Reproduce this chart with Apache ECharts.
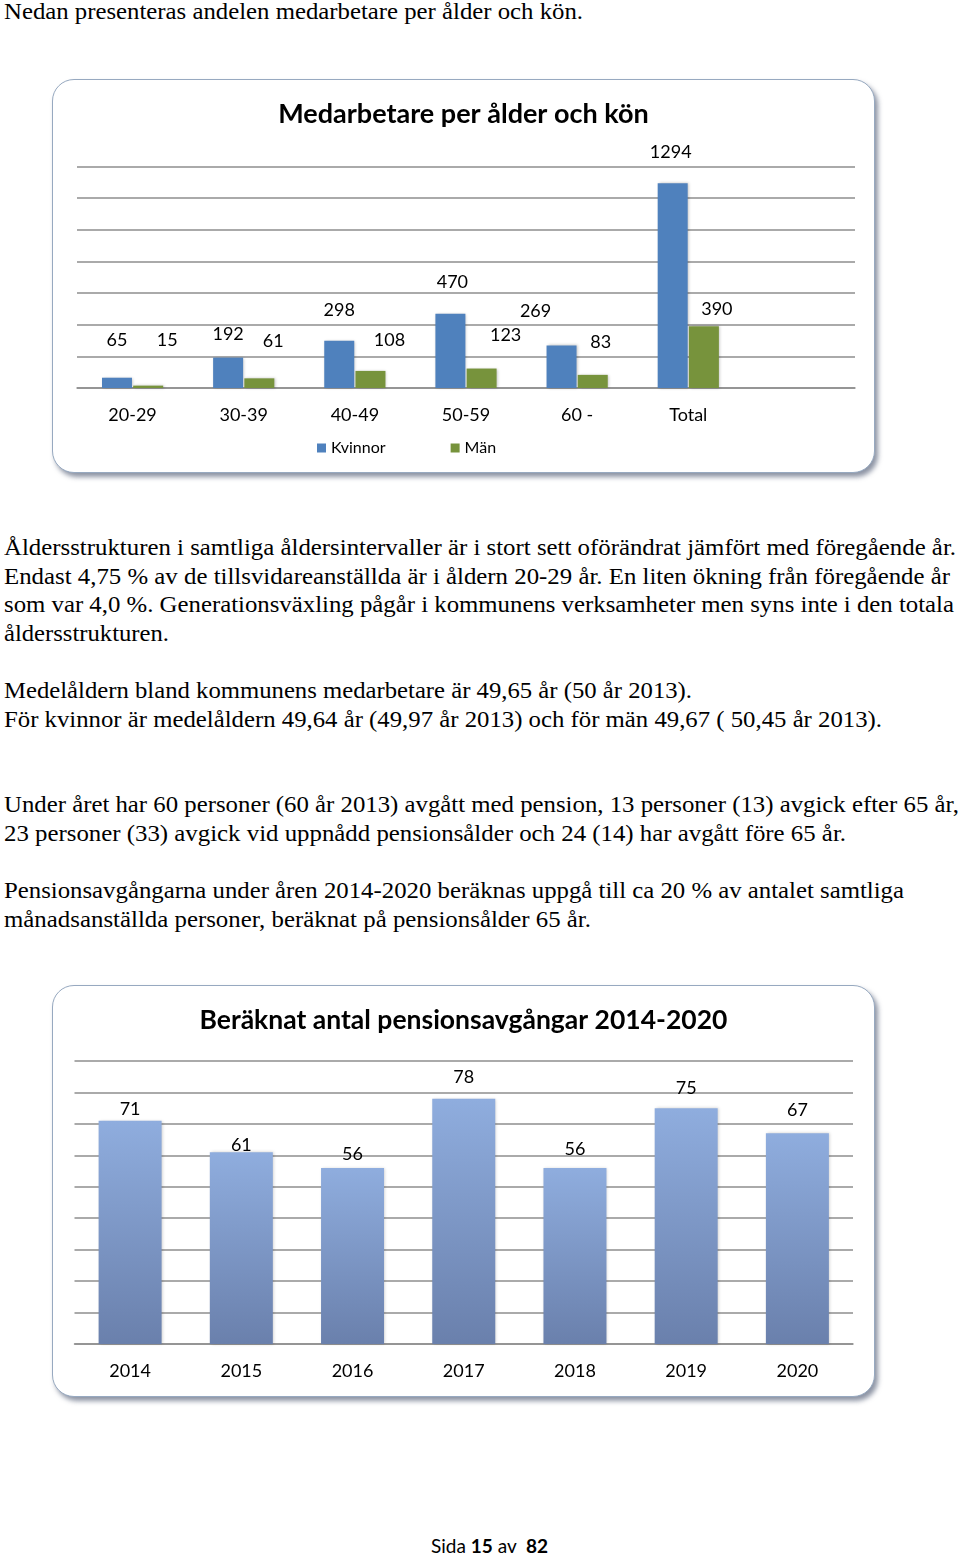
<!DOCTYPE html>
<html><head><meta charset="utf-8">
<script src="https://cdn.jsdelivr.net/npm/echarts@6/dist/echarts.min.js"></script>
<style>
html,body{margin:0;padding:0;background:#fff;}
#page{position:relative;width:960px;height:1555px;overflow:hidden;background:#fff;}
.line{position:absolute;left:4px;white-space:nowrap;font-family:"Liberation Serif","Times New Roman",serif;font-size:24px;line-height:24px;color:#000;transform-origin:0 50%;}
.box{position:absolute;left:52px;width:823px;border:1.5px solid #97a9c0;border-radius:22px;box-shadow:3px 4px 5px rgba(80,90,115,0.65);background:#fff;box-sizing:border-box;}
.chart{position:absolute;left:52px;width:823px;}
#footer{position:absolute;top:1535px;left:431px;font-family:Lato,"Open Sans",sans-serif;font-size:19px;line-height:22px;color:#000;white-space:nowrap;}
</style></head>
<body><div id="page">
<div class="box" style="top:79px;height:394px;"></div>
<div class="chart" id="c1" style="top:79px;height:394px;"></div>
<div class="box" style="top:985px;height:412px;"></div>
<div class="chart" id="c2" style="top:985px;height:412px;"></div>
<div id="footer">Sida <b>15</b> av &nbsp;<b>82</b></div>
</div>
<script>
// ---- Data: chart 1 ----
const ageGroups = ['20-29', '30-39', '40-49', '50-59', '60 -', 'Total', ''];
const kvinnor = [65, 192, 298, 470, 269, 1294, null];
const man = [15, 61, 108, 123, 83, 390, null];
const ageAxis = { min: 0, max: 1400, interval: 200 };

// ---- Data: chart 2 ----
const years = ['2014', '2015', '2016', '2017', '2018', '2019', '2020'];
const pensions = [71, 61, 56, 78, 56, 75, 67];
const pensionAxis = { min: 0, max: 90, interval: 10 };

// ---- Page text ----
const textLines = [
  ['Nedan presenteras andelen medarbetare per ålder och kön.', 12, 583],
  ['Åldersstrukturen i samtliga åldersintervaller är i stort sett oförändrat jämfört med föregående år.', 548, 956],
  ['Endast 4,75 % av de tillsvidareanställda är i åldern 20-29 år. En liten ökning från föregående år', 577, 950],
  ['som var 4,0 %. Generationsväxling pågår i kommunens verksamheter men syns inte i den totala', 605, 954],
  ['åldersstrukturen.', 634, 169],
  ['Medelåldern bland kommunens medarbetare är 49,65 år (50 år 2013).', 691, 692],
  ['För kvinnor är medelåldern 49,64 år (49,97 år 2013) och för män 49,67 ( 50,45 år 2013).', 720, 882],
  ['Under året har 60 personer (60 år 2013) avgått med pension, 13 personer (13) avgick efter 65 år,', 805, 959],
  ['23 personer (33) avgick vid uppnådd pensionsålder och 24 (14) har avgått före 65 år.', 834, 846],
  ['Pensionsavgångarna under åren 2014-2020 beräknas uppgå till ca 20 % av antalet samtliga', 891, 904],
  ['månadsanställda personer, beräknat på pensionsålder 65 år.', 920, 591]
];
const page = document.getElementById('page');
const spans = textLines.map(([t, y, right]) => {
  const d = document.createElement('div');
  d.className = 'line';
  d.textContent = t;
  d.style.top = (y - 13) + 'px';
  page.appendChild(d);
  return [d, right];
});
function fitLines() {
  spans.forEach(([d, right]) => {
    d.style.transform = 'none';
    const w = d.getBoundingClientRect().width;
    d.style.transform = 'scaleX(' + ((right - 4) / w) + ')';
  });
}
fitLines();

// ---- label placement styling (offsets relative to bar tops) ----
const kvShift = [[0, -29], [0, -14], [0, -22], [2, -22], [-26, -25], [-2, -22], [0, 0]];
const manShift = [[19, -36], [14, -28], [19, -22], [24, -24], [8, -24], [13, -8], [0, 0]];
const penShift = [[0, -3], [0, 2], [0, -5], [0, -13], [0, -10], [0, -11], [0, -14]];

const FONT = 'Lato';
const gridLine = { color: '#8e8e8e', width: 1.5 };

function withLabels(vals, shifts) {
  return vals.map((v, i) => v == null ? null : ({ value: v, label: { offset: shifts[i] } }));
}

const c1 = echarts.init(document.getElementById('c1'));
c1.setOption({
  animation: false,
  title: { text: 'Medarbetare per ålder och kön', left: 'center', top: 17,
    textStyle: { fontFamily: FONT, fontWeight: 'bold', fontSize: 27, color: '#000' } },
  legend: { data: ['Kvinnor', 'Män'], left: 260, top: 356, itemWidth: 9, itemHeight: 9, itemGap: 65, icon: 'rect',
    textStyle: { fontFamily: FONT, fontSize: 16, color: '#000' } },
  grid: { left: 25, right: 20, top: 87.5, bottom: 85, containLabel: false },
  xAxis: { type: 'category', data: ageGroups,
    axisLine: { show: true, lineStyle: gridLine }, axisTick: { show: false },
    axisLabel: { fontFamily: FONT, fontSize: 18, color: '#000', margin: 18, interval: 0 } },
  yAxis: { type: 'value', min: ageAxis.min, max: ageAxis.max, interval: ageAxis.interval,
    axisLabel: { show: false }, axisLine: { show: false }, axisTick: { show: false },
    splitLine: { lineStyle: gridLine } },
  series: [
    { name: 'Kvinnor', type: 'bar', data: withLabels(kvinnor, kvShift), barWidth: 30, barGap: '4%',
      itemStyle: { color: '#4f81bd', shadowColor: 'rgba(0,0,0,0.25)', shadowBlur: 3, shadowOffsetX: 1, shadowOffsetY: 0 },
      label: { show: true, position: 'top', distance: 0, fontFamily: FONT, fontSize: 18, lineHeight: 18, color: '#000' } },
    { name: 'Män', type: 'bar', data: withLabels(man, manShift), barWidth: 30,
      itemStyle: { color: '#77933c', shadowColor: 'rgba(0,0,0,0.25)', shadowBlur: 3, shadowOffsetX: 1, shadowOffsetY: 0 },
      label: { show: true, position: 'top', distance: 0, fontFamily: FONT, fontSize: 18, lineHeight: 18, color: '#000' } }
  ]
});

const c2 = echarts.init(document.getElementById('c2'));
c2.setOption({
  animation: false,
  title: { text: 'Beräknat antal pensionsavgångar 2014-2020', left: 'center', top: 17,
    textStyle: { fontFamily: FONT, fontWeight: 'bold', fontSize: 26.5, color: '#000' } },
  grid: { left: 22.5, right: 22, top: 76, bottom: 53, containLabel: false },
  xAxis: { type: 'category', data: years,
    axisLine: { show: true, lineStyle: gridLine }, axisTick: { show: false },
    axisLabel: { fontFamily: FONT, fontSize: 18, color: '#000', margin: 18, interval: 0 } },
  yAxis: { type: 'value', min: pensionAxis.min, max: pensionAxis.max, interval: pensionAxis.interval,
    axisLabel: { show: false }, axisLine: { show: false }, axisTick: { show: false },
    splitLine: { lineStyle: gridLine } },
  series: [
    { type: 'bar', data: withLabels(pensions, penShift), barWidth: 63,
      itemStyle: { color: new echarts.graphic.LinearGradient(0, 0, 0, 1, [
          { offset: 0, color: '#8fadde' }, { offset: 1, color: '#6a80ac' }]),
        shadowColor: 'rgba(0,0,0,0.2)', shadowBlur: 3, shadowOffsetX: 1 },
      label: { show: true, position: 'top', distance: 0, fontFamily: FONT, fontSize: 18, lineHeight: 18, color: '#000' } }
  ]
});
if (document.fonts && document.fonts.ready) {
  document.fonts.ready.then(() => { fitLines(); c1.resize(); c2.resize(); });
}
</script>
</body></html>
